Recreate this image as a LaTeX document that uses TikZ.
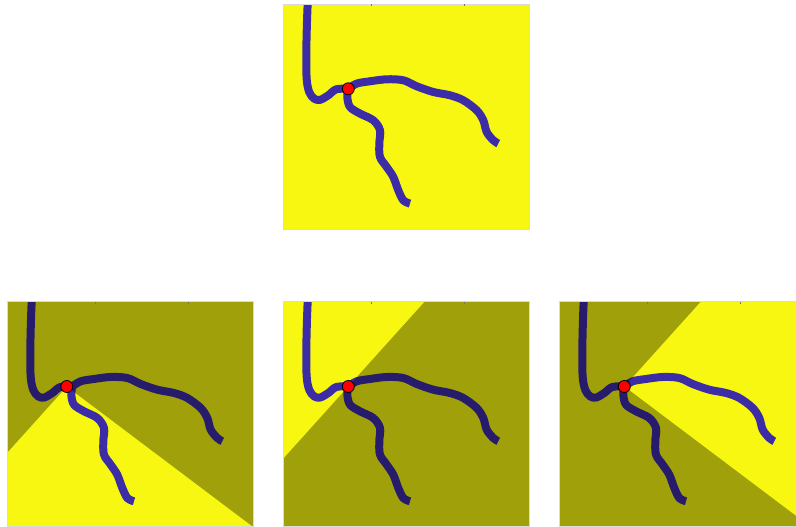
\documentclass[tikz,border=0pt]{standalone}
\usetikzlibrary{positioning}
\definecolor{fundus}{RGB}{247,247,18}
\definecolor{vessel}{RGB}{60,44,165}
\definecolor{framegray}{RGB}{218,218,218}

% the three branches meeting at the junction, panel coordinates
\newcommand{\vesseltree}{%
  \draw[vessel line] plot[smooth,tension=0.55] coordinates {(24.4,226) (23.6,205) (23,175) (23.4,150) (26,137) (31,130.5) (37,129.5) (45,134) (53,140) (65,140.5)};
  \draw[vessel line] plot[smooth,tension=0.55] coordinates {(65,140.5) (73.4,145.7) (86.7,148) (103.4,150) (120,149) (133.4,143) (150,137.3) (166.7,134) (180,129) (193.4,119) (200,109) (203.4,97.3) (210,89) (215,85.7)};
  \draw[vessel line] plot[smooth,tension=0.55] coordinates {(65,140.5) (64,132.3) (66.7,122.3) (76.7,115.7) (90,109) (96.7,99) (96,85.7) (96.7,72.3) (103.4,62.3) (110,52.3) (115,39) (120,29) (126.7,25.7)};
}

\begin{document}
\begin{tikzpicture}[x=1pt,y=1pt,
    panel/.style={fill=fundus},
    vessel line/.style={draw=vessel,line width=8pt,line join=round},
    shade/.style={fill=black,fill opacity=0.35},
    frame line/.style={draw=framegray,line width=1pt},
    axtick/.style={draw=black!55,line width=0.7pt},
    junction/.style={circle,draw=black,fill=red,line width=0.8pt,minimum size=12pt,inner sep=0pt}]
  \useasboundingbox (0,0) rectangle (796,527);

  % top: whole field bright
  \begin{scope}[shift={(283.3,297.7)}]
    \fill[panel] (0,0) rectangle (246,225);
    \begin{scope}
      \clip (0,0) rectangle (246,225);
      \vesseltree
    \end{scope}
    \draw[frame line] (0,0) rectangle (246,225);
    \draw[axtick] (87.7,225) -- ++(0,-2) (180.7,225) -- ++(0,-2);
    \node[junction] (jtop) at (65,140.5) {};
  \end{scope}

  % bottom row: only one branch sector stays bright
  \foreach \px/\dx/\lo/\hi [count=\i] in {7.3/59.5/-37/228,283.3/65/228/408,559.3/65/48/323}{
    \begin{scope}[shift={(\px,0)}]
      \begin{scope}
        \clip (0,0) rectangle (246,225);
        \fill[panel] (0,0) rectangle (246,225);
        \vesseltree
        \fill[shade] (\dx,140.5) -- ++(\lo:400) arc[start angle=\lo,end angle=\hi,radius=400] -- cycle;
      \end{scope}
      \draw[frame line] (0,0) rectangle (246,225);
      \draw[axtick] (87.7,225) -- ++(0,-2) (180.7,225) -- ++(0,-2);
      \node[junction] (jb\i) at (\dx,140.5) {};
    \end{scope}
  }
\end{tikzpicture}
\end{document}
